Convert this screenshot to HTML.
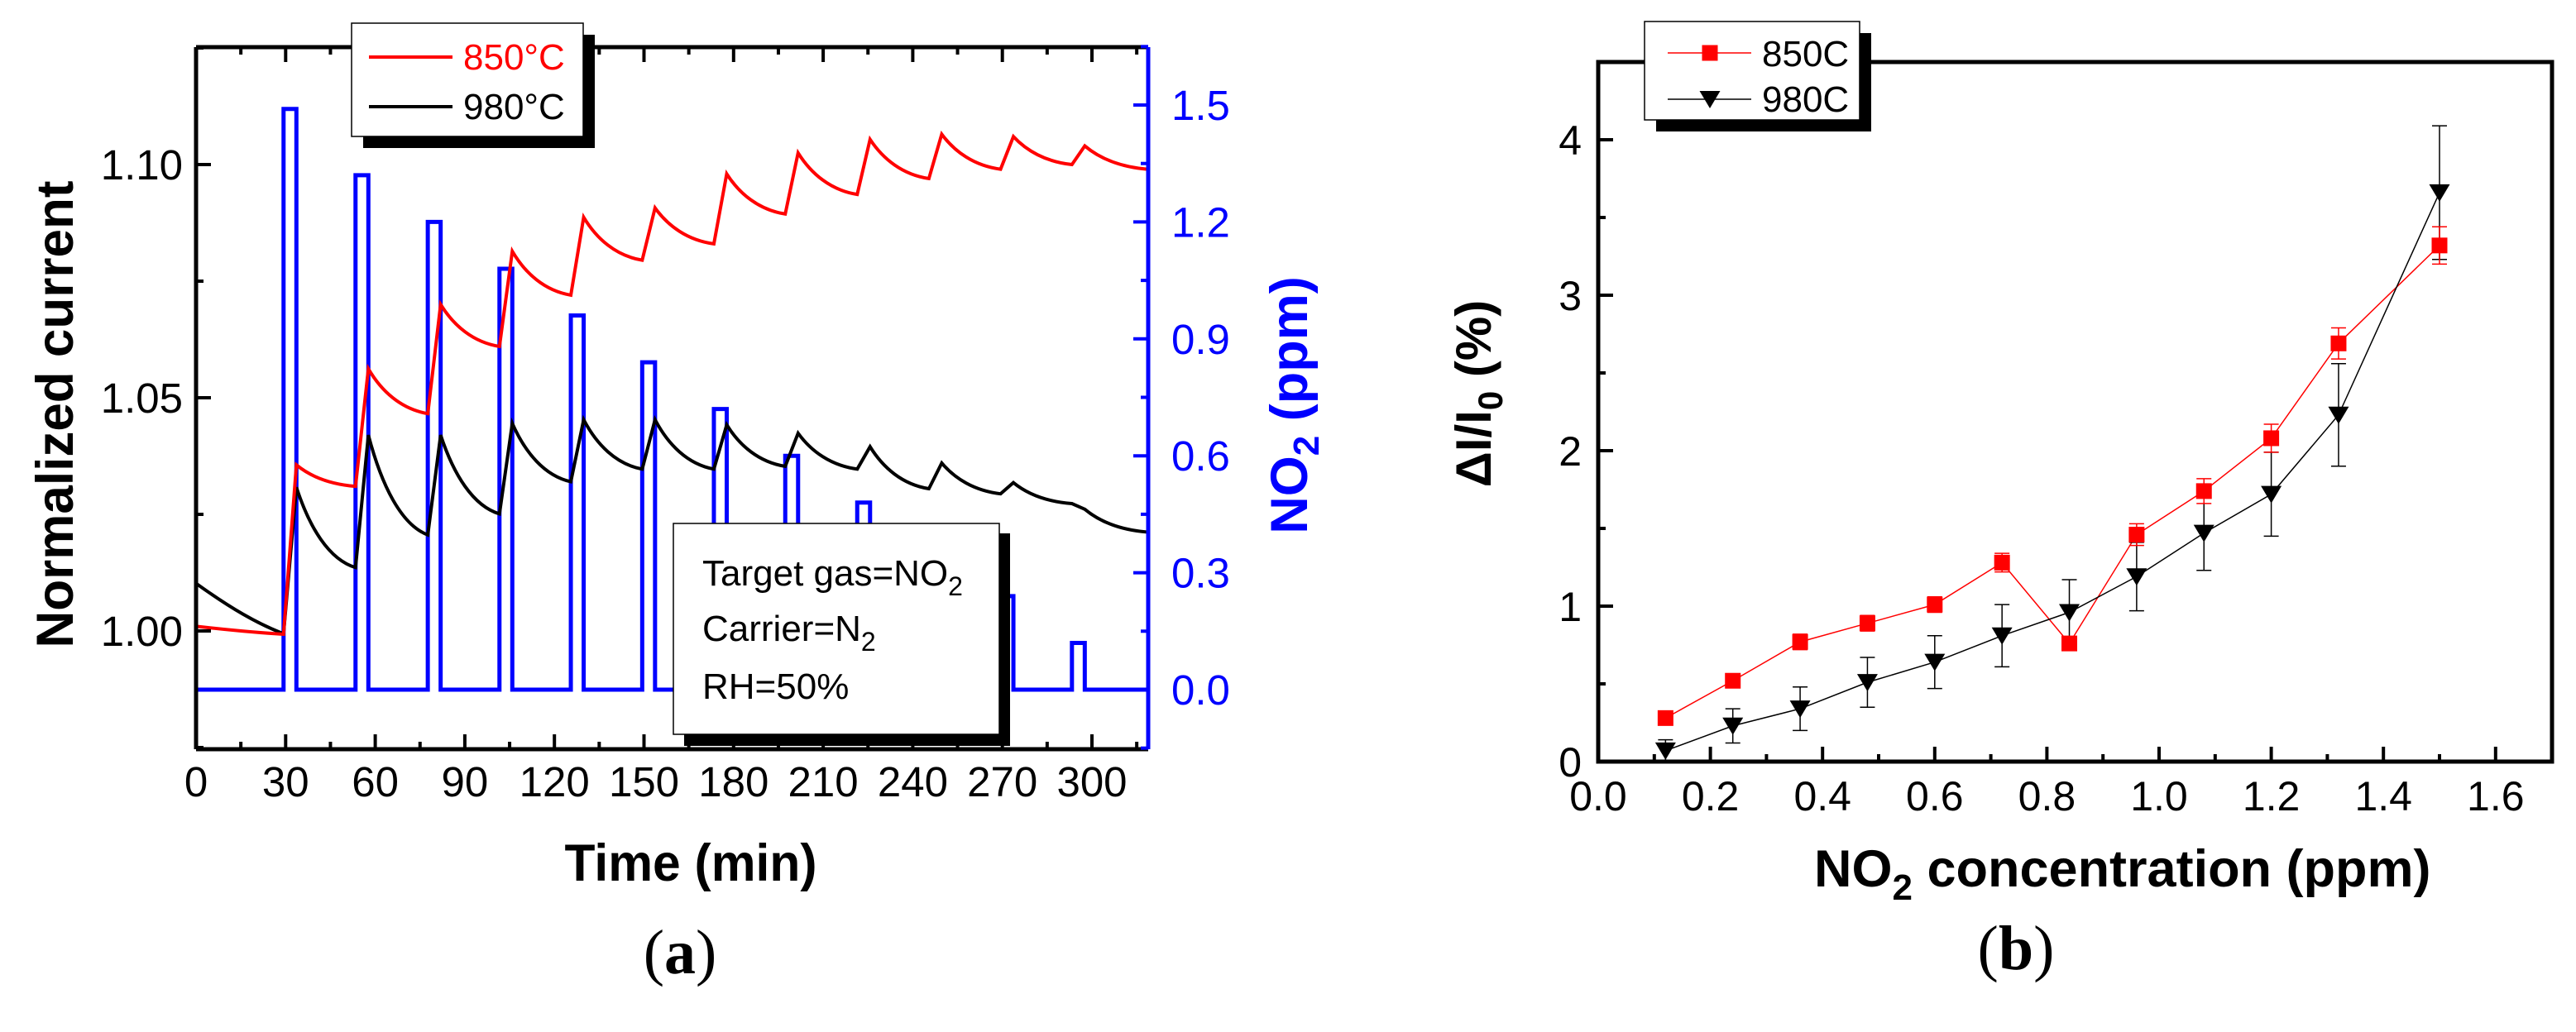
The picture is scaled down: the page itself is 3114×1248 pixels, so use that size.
<!DOCTYPE html>
<html><head><meta charset="utf-8"><style>
html,body{margin:0;padding:0;background:#fff;}
svg{display:block;font-family:"Liberation Sans",Arial,sans-serif;}
</style></head><body>
<svg id="fig" xmlns="http://www.w3.org/2000/svg" width="3114" height="1248" viewBox="0 0 3114 1248">
<rect width="3114" height="1248" fill="#fff"/>
<g id="pa"></g>
<g id="pb"></g>
</svg>
<script>
// ---- Panel (a) data ----
const pulseStart = [29.3,53.4,77.6,101.6,125.5,149.4,173.4,197.3,221.4,245.4,269.4,293.3];
const pulseHeight = [1.49,1.32,1.20,1.08,0.96,0.84,0.72,0.60,0.48,0.36,0.24,0.12];
const pulseWidth = 4.3;
const redInit = 1.001;
const redAtStart = [0.9993,1.031,1.0466,1.061,1.072,1.0795,1.083,1.0894,1.0936,1.097,1.099,1.100];
const redPeak = [1.0356,1.0562,1.070,1.0814,1.0887,1.0907,1.098,1.1025,1.1054,1.1065,1.106,1.104];
const redEnd = 1.099;
const blackInit = 1.0102;
const blackAtStart = [0.9994,1.0136,1.0206,1.0251,1.032,1.0347,1.0347,1.0353,1.0347,1.0305,1.0294,1.0273];
const blackPeak = [1.0308,1.042,1.042,1.0445,1.0453,1.0453,1.0442,1.0424,1.0395,1.036,1.0318,1.0261];
const blackEnd = 1.0212;
const aXTicks = [0,30,60,90,120,150,180,210,240,270,300];
const aYTicks = [1.00,1.05,1.10];
const aYTickLabels = ["1.00","1.05","1.10"];
const aY2Ticks = [0,0.3,0.6,0.9,1.2,1.5];
const aY2TickLabels = ["0.0","0.3","0.6","0.9","1.2","1.5"];
// ---- Panel (b) data ----
const conc = [0.12,0.24,0.36,0.48,0.60,0.72,0.84,0.96,1.08,1.20,1.32,1.50];
const red850 = [0.28,0.52,0.77,0.89,1.01,1.28,0.76,1.46,1.74,2.08,2.69,3.32];
const red850Err = [0.03,0.03,0.05,0.05,0.05,0.06,0.04,0.07,0.08,0.09,0.10,0.12];
const black980 = [0.07,0.23,0.34,0.51,0.64,0.81,0.96,1.19,1.47,1.72,2.23,3.66];
const black980Err = [0.07,0.11,0.14,0.16,0.17,0.20,0.21,0.22,0.24,0.27,0.33,0.43];
const bXTicks = [0,0.2,0.4,0.6,0.8,1.0,1.2,1.4,1.6];
const bXTickLabels = ["0.0","0.2","0.4","0.6","0.8","1.0","1.2","1.4","1.6"];
const bYTicks = [0,1,2,3,4];
const bYTickLabels = ["0","1","2","3","4"];

const NS="http://www.w3.org/2000/svg";
function mk(parent,tag,attrs,text){const e=document.createElementNS(NS,tag);for(const k in attrs)e.setAttribute(k,attrs[k]);if(text!==undefined)e.textContent=text;parent.appendChild(e);return e;}

// ===== Panel A =====
const A=document.getElementById('pa');
const aL=237,aR=1388,aT=57,aB=906;
const ax=t=>aL+t*3.61;
const ay=v=>763-(v-1.0)*5640;
const ay2=v=>834-v*(707/1.5);

let bd=`M${aL} ${ay2(0)}`;
pulseStart.forEach((s,i)=>{bd+=` L${ax(s)} ${ay2(0)} L${ax(s)} ${ay2(pulseHeight[i])} L${ax(s+pulseWidth)} ${ay2(pulseHeight[i])} L${ax(s+pulseWidth)} ${ay2(0)}`;});
bd+=` L${aR} ${ay2(0)}`;
const blue=mk(A,'path',{d:bd,fill:'none',stroke:'#0000ff','stroke-width':5,'stroke-linejoin':'miter'});



function curvePath(init,atStart,peak,endV){
  let d=`M${ax(0)} ${ay(init)}`;
  const t0=pulseStart[0],v0=atStart[0];
  d+=` C${ax(t0*0.4)} ${ay(init-(init-v0)*0.5)} ${ax(t0*0.7)} ${ay(v0+(init-v0)*0.2)} ${ax(t0)} ${ay(v0)}`;
  for(let i=0;i<pulseStart.length;i++){
    const tp=pulseStart[i]+pulseWidth, vp=peak[i];
    d+=` L${ax(tp)} ${ay(vp)}`;
    const tn= i+1<pulseStart.length?pulseStart[i+1]:318.5;
    const vn= i+1<pulseStart.length?atStart[i+1]:endV;
    const dt=tn-tp;
    d+=` C${ax(tp+dt*0.22)} ${ay(vn+(vp-vn)*0.5)} ${ax(tp+dt*0.55)} ${ay(vn+(vp-vn)*0.1)} ${ax(tn)} ${ay(vn)}`;
  }
  return d;
}
const blk=mk(A,'path',{d:curvePath(blackInit,blackAtStart,blackPeak,blackEnd),fill:'none',stroke:'#000','stroke-width':4});


const red=mk(A,'path',{d:curvePath(redInit,redAtStart,redPeak,redEnd),fill:'none',stroke:'#ff0000','stroke-width':4});



mk(A,'line',{x1:aL,y1:aB,x2:aR,y2:aB,stroke:'#000','stroke-width':5,});
mk(A,'line',{x1:aL,y1:aT,x2:aR,y2:aT,stroke:'#000','stroke-width':5,});
mk(A,'line',{x1:aL,y1:aT,x2:aL,y2:aB,stroke:'#000','stroke-width':5,});
mk(A,'line',{x1:aR,y1:aT,x2:aR,y2:aB,stroke:'#0000ff','stroke-width':5,});
for(let t=0;t<=315;t+=15){
  const major=t%30===0, L=major?18:9;
  mk(A,'line',{x1:ax(t),y1:aB,x2:ax(t),y2:aB-L,stroke:'#000','stroke-width':4});
  mk(A,'line',{x1:ax(t),y1:aT,x2:ax(t),y2:aT+L,stroke:'#000','stroke-width':4});
}
aXTicks.forEach(t=>{const e=mk(A,'text',{x:ax(t),y:963,'font-size':51,'text-anchor':'middle'},String(t));

});
for(let v=0.975;v<=1.1251;v+=0.025){
  const major=Math.abs((v*100)%5)<0.01||Math.abs((v*100)%5-5)<0.01;
  mk(A,'line',{x1:aL,y1:ay(v),x2:aL+(major?18:9),y2:ay(v),stroke:'#000','stroke-width':4});
}
aYTicks.forEach((v,i)=>{const e=mk(A,'text',{x:221,y:ay(v)+18,'font-size':51,'text-anchor':'end'},aYTickLabels[i]);

});
for(let v=-0.15;v<=1.651;v+=0.15){
  const k=Math.round(v/0.15), major=k%2===0;
  mk(A,'line',{x1:aR,y1:ay2(v),x2:aR-(major?18:9),y2:ay2(v),stroke:'#0000ff','stroke-width':4});
}
aY2Ticks.forEach((v,i)=>{const e=mk(A,'text',{x:1416,y:ay2(v)+18,'font-size':51,fill:'#0000ff'},aY2TickLabels[i]);

});
</script>
<script>
(function(){
const A=document.getElementById('pa');
A.insertAdjacentHTML('beforeend',`
<text transform="translate(88,501) rotate(-90)" font-size="63" font-weight="bold" text-anchor="middle" textLength="565" lengthAdjust="spacingAndGlyphs">Normalized current</text>
<text transform="translate(1580,490) rotate(-90)" font-size="63" font-weight="bold" text-anchor="middle" fill="#0000ff">NO<tspan font-size="44" dy="14">2</tspan><tspan dy="-14"> (ppm)</tspan></text>
<text x="835" y="1065" font-size="63" font-weight="bold" text-anchor="middle" textLength="305" lengthAdjust="spacingAndGlyphs">Time (min)</text>
<text x="822" y="1177" font-size="76" text-anchor="middle" font-family="Liberation Serif, serif">(<tspan font-weight="bold">a</tspan>)</text>
<g>
<rect x="439" y="42" width="280" height="137" fill="#000"/>
<rect x="425" y="28" width="280" height="137" fill="#fff" stroke="#000" stroke-width="1.5"/>
<line x1="446" y1="69" x2="547" y2="69" stroke="#ff0000" stroke-width="4"/>
<text x="560" y="84" font-size="44" fill="#ff0000">850°C</text>
<line x1="446" y1="129" x2="547" y2="129" stroke="#000" stroke-width="4"/>
<text x="560" y="144" font-size="44">980°C</text>
</g>
<g>
<rect x="827" y="645" width="394" height="257" fill="#000"/>
<rect x="814" y="633" width="394" height="255" fill="#fff" stroke="#000" stroke-width="1.5"/>
<text x="849" y="708" font-size="44">Target gas=NO<tspan font-size="32" dy="12">2</tspan></text>
<text x="849" y="775" font-size="44">Carrier=N<tspan font-size="32" dy="12">2</tspan></text>
<text x="849" y="845" font-size="44">RH=50%</text>
</g>`);
})();
</script>
<script>
(function(){
const B=document.getElementById('pb');
const bL=1932,bR=3085,bT=75,bB=921;
const bx=c=>bL+c*678;
const by=v=>921-v*188;
const rl=mk(B,'polyline',{points:conc.map((c,i)=>bx(c)+','+by(red850[i])).join(' '),fill:'none',stroke:'#ff0000','stroke-width':1.5});


const kl=mk(B,'polyline',{points:conc.map((c,i)=>bx(c)+','+by(black980[i])).join(' '),fill:'none',stroke:'#000','stroke-width':1.5});


function err(c,v,e,col){
  const x=bx(c);
  mk(B,'line',{x1:x,y1:by(v-e),x2:x,y2:by(v+e),stroke:col,'stroke-width':1.5});
  mk(B,'line',{x1:x-9,y1:by(v-e),x2:x+9,y2:by(v-e),stroke:col,'stroke-width':1.5});
  mk(B,'line',{x1:x-9,y1:by(v+e),x2:x+9,y2:by(v+e),stroke:col,'stroke-width':1.5});
}
conc.forEach((c,i)=>{err(c,black980[i],black980Err[i],'#000');err(c,red850[i],red850Err[i],'#ff0000');});
conc.forEach((c,i)=>{
  const x=bx(c),y=by(black980[i]);
  const t=mk(B,'polygon',{points:`${x-12.5},${y-10} ${x+12.5},${y-10} ${x},${y+11}`,fill:'#000'});
  
  
});
conc.forEach((c,i)=>{
  const x=bx(c),y=by(red850[i]);
  const s=mk(B,'rect',{x:x-9.5,y:y-9.5,width:19,height:19,fill:'#ff0000'});
  
  
});
mk(B,'rect',{x:bL,y:bT,width:bR-bL,height:bB-bT,fill:'none',stroke:'#000','stroke-width':5,});
for(let c=0;c<=1.701;c+=0.1){
  const k=Math.round(c*10),major=k%2===0;
  mk(B,'line',{x1:bx(c),y1:bB,x2:bx(c),y2:bB-(major?18:9),stroke:'#000','stroke-width':4});
}
for(let v=0;v<=4.501;v+=0.5){
  const k=Math.round(v*2),major=k%2===0;
  mk(B,'line',{x1:bL,y1:by(v),x2:bL+(major?18:9),y2:by(v),stroke:'#000','stroke-width':4});
}
bXTicks.forEach((c,i)=>{const e=mk(B,'text',{x:bx(c),y:980,'font-size':50,'text-anchor':'middle'},bXTickLabels[i]);

});
bYTicks.forEach((v,i)=>{const e=mk(B,'text',{x:1912,y:by(v)+18,'font-size':50,'text-anchor':'end'},bYTickLabels[i]);

});
B.insertAdjacentHTML('beforeend',`
<text transform="translate(1802,476) rotate(-90)" font-size="60" font-weight="bold" text-anchor="middle">ΔI/I<tspan font-size="42" dy="14">0</tspan><tspan dy="-14"> (%)</tspan></text>
<text x="2193" y="1072" font-size="63" font-weight="bold">NO<tspan font-size="44" dy="16">2</tspan><tspan dy="-16"> concentration (ppm)</tspan></text>
<text x="2437" y="1172" font-size="76" text-anchor="middle" font-family="Liberation Serif, serif">(<tspan font-weight="bold">b</tspan>)</text>
<g>
<rect x="2002" y="40" width="260" height="119" fill="#000"/>
<rect x="1988" y="26" width="260" height="119" fill="#fff" stroke="#000" stroke-width="1.5"/>
<line x1="2016" y1="64" x2="2117" y2="64" stroke="#ff0000" stroke-width="1.5"/>
<rect x="2057.5" y="54.5" width="19" height="19" fill="#ff0000"/>
<text x="2130" y="80" font-size="44">850C</text>
<line x1="2016" y1="120" x2="2117" y2="120" stroke="#000" stroke-width="1.5"/>
<polygon points="2054.5,110 2079.5,110 2067,131" fill="#000"/>
<text x="2130" y="135" font-size="44">980C</text>
</g>`);
})();
</script>
</body></html>
